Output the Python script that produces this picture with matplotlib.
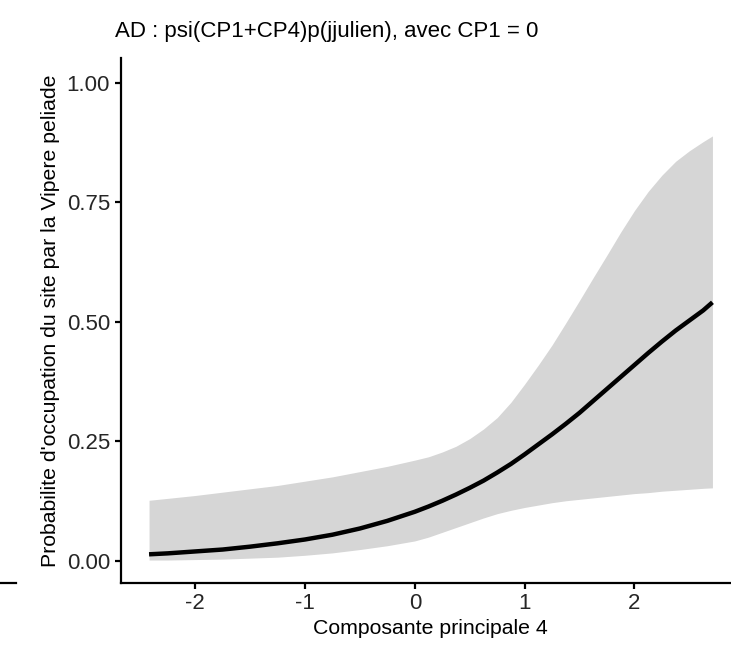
import numpy as np
import matplotlib
matplotlib.use("Agg")
import matplotlib.pyplot as plt
from matplotlib.lines import Line2D

plt.rcParams['font.family'] = ['Liberation Sans', 'DejaVu Sans']

# values
cp4 = [-2.42, -2.25, -2.0, -1.75, -1.5, -1.25, -1.0, -0.75, -0.5, -0.25,
       0.0, 0.125, 0.25, 0.375, 0.5, 0.625, 0.75, 0.875, 1.0, 1.125, 1.25, 1.375,
       1.5, 1.625, 1.75, 1.875, 2.0, 2.125, 2.25, 2.375, 2.5, 2.625, 2.71]
psi = [0.014, 0.016, 0.020, 0.024, 0.030, 0.037, 0.045, 0.055, 0.068, 0.084,
       0.103, 0.114, 0.126, 0.139, 0.153, 0.168, 0.185, 0.203, 0.223, 0.244, 0.265, 0.287,
       0.310, 0.335, 0.360, 0.385, 0.410, 0.435, 0.459, 0.482, 0.503, 0.524, 0.541]
psi_low = [0.002, 0.002, 0.003, 0.004, 0.006, 0.008, 0.012, 0.017, 0.024, 0.032,
           0.042, 0.050, 0.060, 0.070, 0.080, 0.090, 0.099, 0.106, 0.112, 0.117, 0.122, 0.126,
           0.129, 0.132, 0.135, 0.138, 0.141, 0.143, 0.146, 0.148, 0.150, 0.152, 0.153]
psi_high = [0.127, 0.131, 0.137, 0.144, 0.151, 0.158, 0.167, 0.176, 0.187, 0.198,
            0.211, 0.218, 0.228, 0.240, 0.256, 0.276, 0.300, 0.332, 0.370, 0.410, 0.452, 0.498,
            0.545, 0.593, 0.640, 0.688, 0.733, 0.773, 0.807, 0.836, 0.858, 0.877, 0.889]
yticks = [0.0, 0.25, 0.5, 0.75, 1.0]
xticks = [-2, -1, 0, 1, 2]

W, H = 731, 649
fig = plt.figure(figsize=(W / 100, H / 100), dpi=100)
ax = fig.add_axes([120.5 / W, (H - 583) / H, (741 - 120.5) / W, (583 - 58) / H])

ax.fill_between(cp4, psi_low, psi_high, color='#d6d6d6', lw=0)
ax.plot(cp4, psi, color='black', lw=3.2, solid_capstyle='butt')

ax.set_xlim(-2.68, 2.97)
ax.set_ylim(-0.046, 1.052)
ax.set_xticks(xticks)
ax.set_xticklabels([str(t) for t in xticks])
ax.set_yticks(yticks)
ax.set_yticklabels(['%.2f' % t for t in yticks])

for s in ['top', 'right']:
    ax.spines[s].set_visible(False)
for s in ['left', 'bottom']:
    ax.spines[s].set_linewidth(1.6)
ax.tick_params(length=4.5, width=1.6, labelsize=16, colors='black', pad=3)
ax.tick_params(axis='both', labelcolor='#262626')

ax.set_xlabel('Composante principale 4', fontsize=15.3, labelpad=3)
ax.set_ylabel("Probabilite d'occupation du site par la Vipere peliade", fontsize=15.3, labelpad=5)
fig.text(115 / W, 1 - 32 / H, 'AD : psi(CP1+CP4)p(jjulien), avec CP1 = 0',
         fontsize=16, ha='left', va='center')

# stray axis line from a neighbouring panel at the left edge
fig.add_artist(Line2D([0, 16 / W], [(H - 583) / H] * 2, color='black', lw=1.6))

fig.savefig('out.png', dpi=100)
